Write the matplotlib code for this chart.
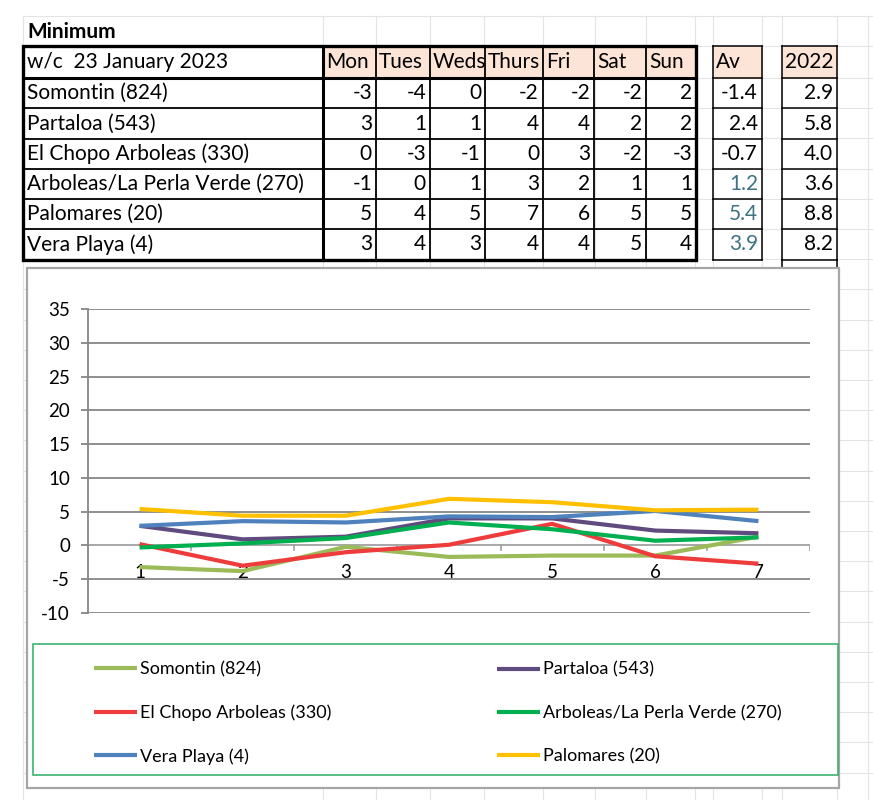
import numpy as np
import matplotlib.pyplot as plt
from matplotlib.patches import Rectangle
from matplotlib.transforms import Bbox

plt.rcParams['font.family'] = ['Lato', 'DejaVu Sans']
plt.rcParams['axes.unicode_minus'] = False

# table data
sites = ["Somontin (824)", "Partaloa (543)", "El Chopo Arboleas (330)",
         "Arboleas/La Perla Verde (270)", "Palomares (20)", "Vera Playa (4)"]
days = ["Mon", "Tues", "Weds", "Thurs", "Fri", "Sat", "Sun"]
mins = [[-3, -4, 0, -2, -2, -2, 2],
        [3, 1, 1, 4, 4, 2, 2],
        [0, -3, -1, 0, 3, -2, -3],
        [-1, 0, 1, 3, 2, 1, 1],
        [5, 4, 5, 7, 6, 5, 5],
        [3, 4, 3, 4, 4, 5, 4]]
av_vals = ["-1.4", "2.4", "-0.7", "1.2", "5.4", "3.9"]
prev_vals = ["2.9", "5.8", "4.0", "3.6", "8.8", "8.2"]

# chart data
day_no = [1, 2, 3, 4, 5, 6, 7]
somontin = [-3.2, -3.8, -0.2, -1.7, -1.5, -1.5, 1.3]
partaloa = [2.9, 0.9, 1.3, 4.0, 4.0, 2.2, 1.8]
el_chopo = [0.2, -3.0, -1.0, 0.1, 3.2, -1.6, -2.7]
arboleas = [-0.3, 0.3, 1.1, 3.4, 2.4, 0.7, 1.2]
vera = [2.9, 3.6, 3.4, 4.3, 4.2, 5.1, 3.6]
palomares = [5.4, 4.4, 4.4, 6.9, 6.4, 5.2, 5.3]

series = [("Somontin (824)", somontin, "#9BBB59"),
          ("Partaloa (543)", partaloa, "#5F4B7E"),
          ("El Chopo Arboleas (330)", el_chopo, "#EE3B3B"),
          ("Arboleas/La Perla Verde (270)", arboleas, "#00B050"),
          ("Vera Playa (4)", vera, "#4F81BD"),
          ("Palomares (20)", palomares, "#FFC000")]

W, H = 873, 800
fig = plt.figure(figsize=(W / 100, H / 100), dpi=100)
bg = fig.add_axes([0, 0, 1, 1])
bg.set_xlim(0, W)
bg.set_ylim(H, 0)
bg.axis('off')

# spreadsheet grid
col_x = [23, 323, 376, 430, 484, 543, 595, 646, 695, 713, 762, 782, 837, 868]
row_y = [16, 46] + list(np.arange(78, 800, 30.2))
for x in col_x:
    bg.plot([x, x], [16, 800], color="#E4E4E4", lw=0.8, zorder=0)
for y in row_y:
    bg.plot([23, 873], [y, y], color="#E4E4E4", lw=0.8, zorder=0)

# table geometry
cols = [23, 323, 376, 430, 485, 543, 594, 646, 696]
rows = [46, 78, 108, 139, 169, 199, 229, 260]
peach = "#FCE4D6"
fs = 15

bg.add_patch(Rectangle((323, 46), 696 - 323, 32, color=peach, zorder=1))
bg.add_patch(Rectangle((713, 46), 49, 32, color=peach, zorder=1))
bg.add_patch(Rectangle((782, 46), 55, 32, color=peach, zorder=1))

for x in cols:
    bg.plot([x, x], [46, 260], color="black", lw=1.3, zorder=3)
for y in rows:
    bg.plot([23, 696], [y, y], color="black", lw=1.3, zorder=3)
bg.add_patch(Rectangle((23, 46), 673, 214, fill=False, ec="black", lw=2.4, zorder=4))
bg.plot([323, 323], [46, 260], color="black", lw=2.2, zorder=4)
bg.plot([23, 696], [78, 78], color="black", lw=2.2, zorder=4)

for x0, x1 in [(713, 762), (782, 837)]:
    for x in (x0, x1):
        bg.plot([x, x], [46, 260], color="black", lw=1.1, zorder=3)
    for y in rows:
        bg.plot([x0, x1], [y, y], color="black", lw=1.1, zorder=3)
bg.plot([782, 782], [260, 268], color="black", lw=1.1, zorder=3)
bg.plot([837, 837], [260, 268], color="black", lw=1.1, zorder=3)

bg.text(27, 32, "Minimum", fontsize=fs, fontweight="bold", va="center", ha="left")
bg.text(27, 62, "w/c  23 January 2023", fontsize=fs, va="center", ha="left")
for j, d in enumerate(days):
    t = bg.text(cols[j + 1] + 3, 62, d, fontsize=fs, va="center", ha="left", zorder=5)
    p0 = bg.transData.transform((cols[j + 1], 78))
    p1 = bg.transData.transform((cols[j + 2], 46))
    t.set_clip_box(Bbox.from_extents(min(p0[0], p1[0]), min(p0[1], p1[1]),
                                     max(p0[0], p1[0]), max(p0[1], p1[1])))
    t.set_clip_on(True)
bg.text(716, 62, "Av", fontsize=fs, va="center", ha="left")
bg.text(833, 62, "2022", fontsize=fs, va="center", ha="right")

for i, name in enumerate(sites):
    yc = (rows[i + 1] + rows[i + 2]) / 2
    bg.text(27, yc, name, fontsize=fs, va="center", ha="left")
    for j, v in enumerate(mins[i]):
        bg.text(cols[j + 2] - 4, yc, str(v), fontsize=fs, va="center", ha="right")
    av_col = "black" if i < 3 else "#3E7482"
    bg.text(758, yc, av_vals[i], fontsize=fs, va="center", ha="right", color=av_col)
    bg.text(833, yc, prev_vals[i], fontsize=fs, va="center", ha="right")

# chart area and legend frame
bg.add_patch(Rectangle((27, 268), 812, 520, fc="white", ec="#A6A6A6", lw=1.6, zorder=6))
bg.add_patch(Rectangle((33, 644), 805, 131, fill=False, ec="#3CB371", lw=1.2, zorder=7))

ax = fig.add_axes([88 / W, 1 - 613 / H, (810 - 88) / W, (613 - 309) / H], zorder=10)
ax.patch.set_alpha(0)
ax.set_xlim(0.5, 7.5)
ax.set_ylim(-10, 35)
ax.set_yticks(np.arange(-10, 36, 5))
ax.set_xticks([])
for s in ["top", "right", "bottom"]:
    ax.spines[s].set_visible(False)
ax.spines["left"].set_color("#868686")
ax.spines["left"].set_linewidth(1.3)
ax.tick_params(axis="y", length=5, width=1.3, color="#868686", labelsize=13.5, pad=8)
for v in np.arange(-10, 36, 5):
    if v != 0:
        ax.axhline(v, color="#868686", lw=1.3, zorder=1)
ax.axhline(0, color="#A0A0A0", lw=1.3, zorder=1)
for b in np.arange(1.5, 8, 1):
    ax.plot([b, b], [0, -0.7], color="#A0A0A0", lw=1.2, zorder=1)
for d in day_no:
    ax.text(d, -4.0, str(d), fontsize=13.5, ha="center", va="center", zorder=1)

handles = []
for name, vals, col in series:
    h, = ax.plot(day_no, vals, color=col, lw=3.0, solid_capstyle="butt", zorder=3)
    handles.append(h)

lkw = dict(frameon=False, fontsize=13, handlelength=2.4, handletextpad=0.15,
           labelspacing=1.5, borderpad=0, loc="center left",
           bbox_transform=fig.transFigure)
leg1 = ax.legend(handles=[handles[0], handles[2], handles[4]],
                 labels=[series[0][0], series[2][0], series[4][0]],
                 bbox_to_anchor=(85 / W, 1 - 713 / H), **lkw)
ax.add_artist(leg1)
ax.legend(handles=[handles[1], handles[3], handles[5]],
          labels=[series[1][0], series[3][0], series[5][0]],
          bbox_to_anchor=(488 / W, 1 - 713 / H), **lkw)

fig.savefig("out.png", dpi=100)
